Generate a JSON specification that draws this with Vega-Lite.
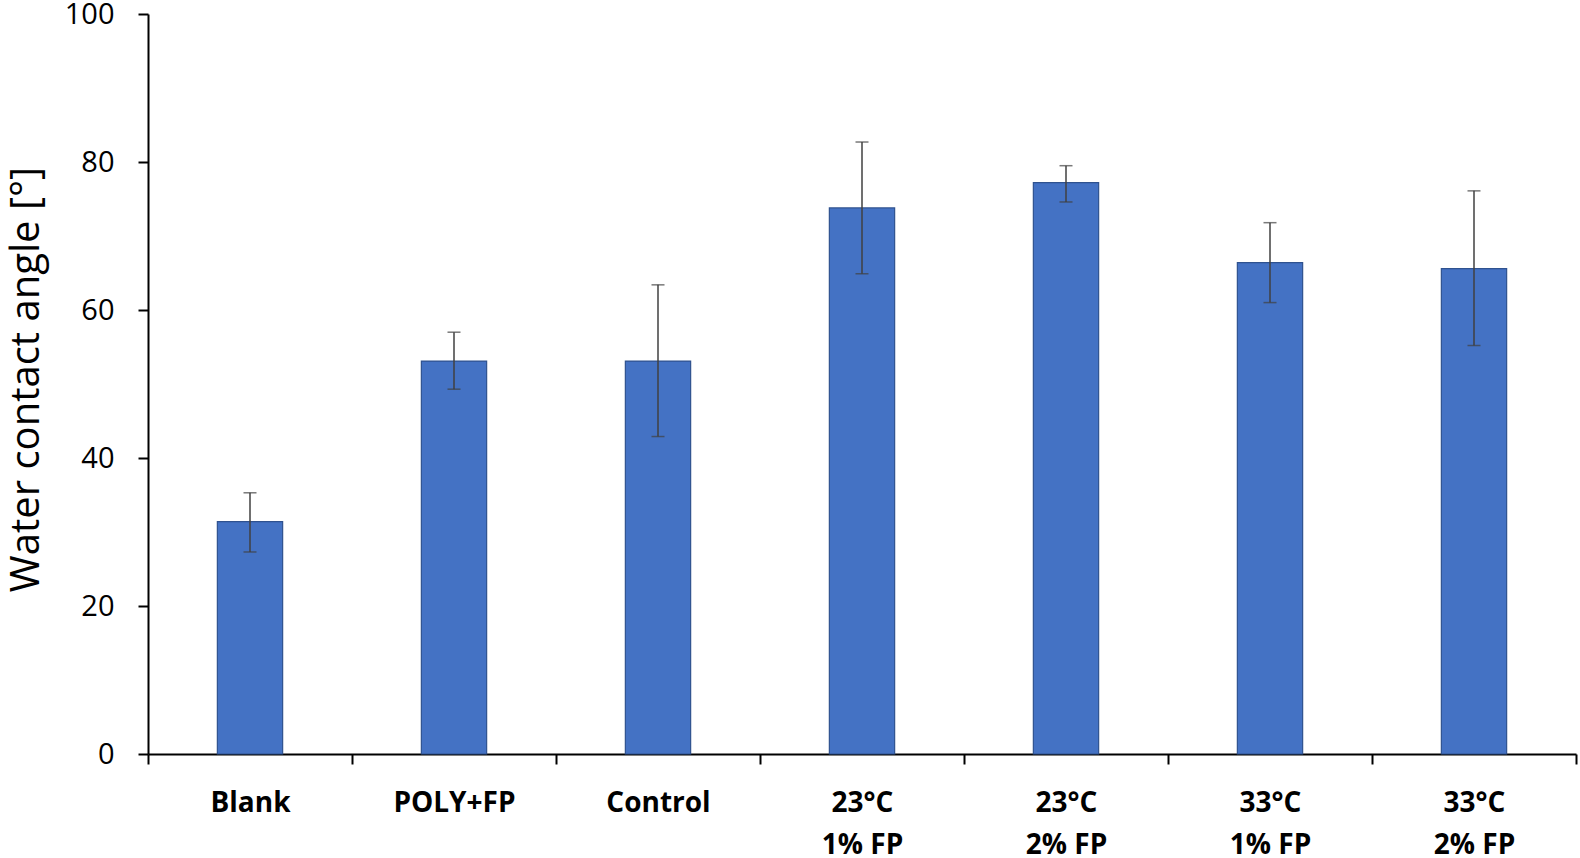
{
  "$schema": "https://vega.github.io/schema/vega-lite/v6.json",
  "width": 1428,
  "height": 740,
  "autosize": {"type": "none"},
  "padding": {"left": 148, "top": 14, "right": 4, "bottom": 104},
  "background": "white",
  "data": {
    "values": [
      {"group": "Blank", "angle": 31.4, "low": 27.3, "high": 35.3},
      {"group": "POLY+FP", "angle": 53.1, "low": 49.3, "high": 57.0},
      {"group": "Control", "angle": 53.1, "low": 42.9, "high": 63.4},
      {"group": "23°C\n1% FP", "angle": 73.8, "low": 64.9, "high": 82.7},
      {"group": "23°C\n2% FP", "angle": 77.2, "low": 74.6, "high": 79.5},
      {"group": "33°C\n1% FP", "angle": 66.4, "low": 61.0, "high": 71.8},
      {"group": "33°C\n2% FP", "angle": 65.6, "low": 55.2, "high": 76.1}
    ]
  },
  "encoding": {
    "x": {
      "field": "group",
      "type": "nominal",
      "sort": null,
      "scale": {"paddingInner": 0, "paddingOuter": 0},
      "axis": {
        "title": null,
        "labelAngle": 0,
        "labelExpr": "split(datum.label, '\\n')",
        "labelFont": "Open Sans",
        "labelFontWeight": "bold",
        "labelFontSize": 28,
        "labelColor": "black",
        "labelLineHeight": 42,
        "labelBaseline": "top",
        "labelPadding": 25,
        "tickBand": "extent",
        "tickSize": 10,
        "tickWidth": 2,
        "tickColor": "black",
        "domainColor": "black",
        "domainWidth": 2
      }
    }
  },
  "layer": [
    {
      "mark": {"type": "bar", "width": {"band": 0.32}, "color": "#4472C4", "stroke": "#2F528F", "strokeWidth": 1.2},
      "encoding": {
        "y": {
          "field": "angle",
          "type": "quantitative",
          "scale": {"domain": [0, 100], "nice": false},
          "axis": {
            "title": "Water contact angle [°]",
            "titleFont": "Open Sans",
            "titleFontSize": 40,
            "titleFontWeight": "normal",
            "titleColor": "black",
            "titleAngle": -90,
            "titleX": -122,
            "titleY": 365,
            "titleAlign": "center",
            "titleBaseline": "middle",
            "values": [0, 20, 40, 60, 80, 100],
            "grid": false,
            "labelFont": "Open Sans",
            "labelFontSize": 29,
            "labelColor": "black",
            "labelPadding": 24,
            "tickSize": 10,
            "tickWidth": 2,
            "tickColor": "black",
            "domainColor": "black",
            "domainWidth": 2
          }
        }
      }
    },
    {
      "mark": {"type": "rule", "color": "#404040", "strokeWidth": 1.5},
      "encoding": {
        "y": {"field": "low", "type": "quantitative"},
        "y2": {"field": "high"}
      }
    },
    {
      "mark": {"type": "tick", "color": "#404040", "thickness": 1.5, "size": 13, "orient": "horizontal"},
      "encoding": {
        "y": {"field": "low", "type": "quantitative"}
      }
    },
    {
      "mark": {"type": "tick", "color": "#404040", "thickness": 1.5, "size": 13, "orient": "horizontal"},
      "encoding": {
        "y": {"field": "high", "type": "quantitative"}
      }
    }
  ],
  "config": {
    "view": {"stroke": null}
  }
}
